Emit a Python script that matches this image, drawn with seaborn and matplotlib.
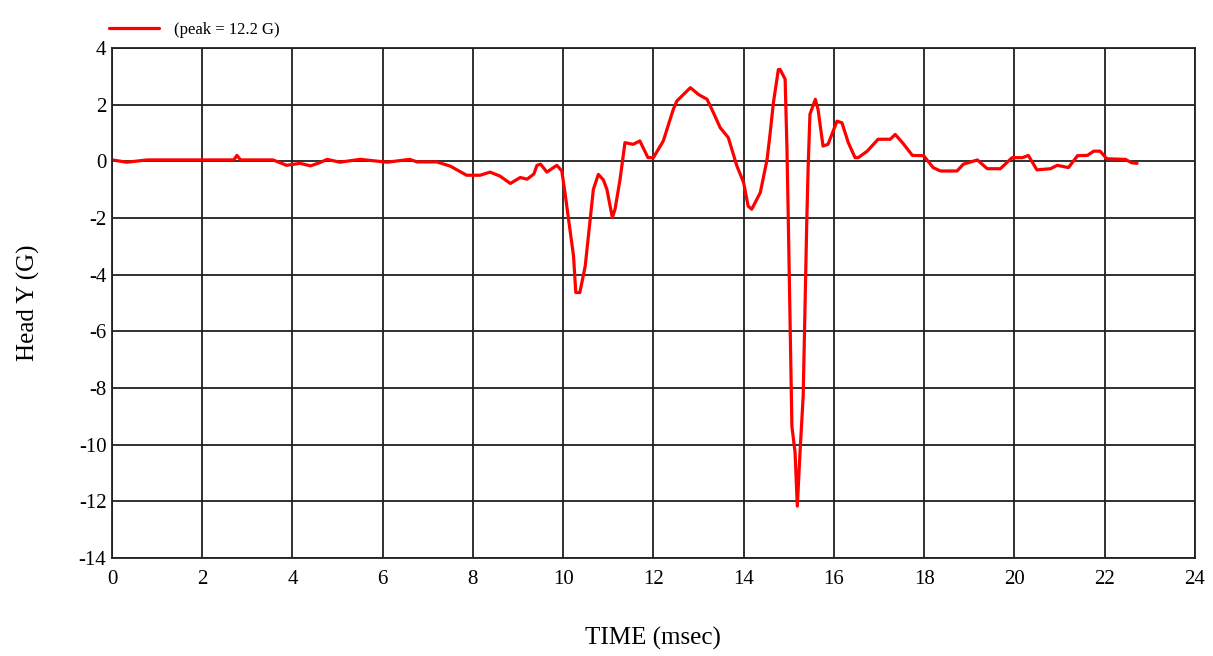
import numpy as np
import pandas as pd
import seaborn as sns
import matplotlib.pyplot as plt

# time (msec) and head Y acceleration (G)
time_ms = [0.0, 0.33, 0.78, 2.7, 2.77, 2.85, 3.57, 3.87, 4.17, 4.4, 4.6, 4.77,
           5.05, 5.5, 6.1, 6.6, 6.76, 7.2, 7.5, 7.86, 8.16, 8.38, 8.6, 8.83,
           9.05, 9.2, 9.35, 9.42, 9.5, 9.64, 9.86, 9.97, 10.04, 10.15, 10.23,
           10.28, 10.37, 10.49, 10.56, 10.67, 10.78, 10.89, 10.97, 11.09,
           11.15, 11.26, 11.37, 11.55, 11.7, 11.88, 12.0, 12.22, 12.44, 12.52,
           12.82, 13.0, 13.19, 13.33, 13.48, 13.66, 13.85, 14.0, 14.1, 14.18,
           14.37, 14.52, 14.59, 14.66, 14.77, 14.81, 14.92, 14.96, 14.99,
           15.03, 15.07, 15.14, 15.19, 15.25, 15.32, 15.36, 15.4, 15.43,
           15.47, 15.59, 15.65, 15.76, 15.87, 16.07, 16.18, 16.32, 16.47,
           16.54, 16.74, 16.98, 17.25, 17.36, 17.52, 17.74, 17.99, 18.2,
           18.36, 18.73, 18.87, 19.18, 19.4, 19.69, 19.95, 20.18, 20.31,
           20.5, 20.8, 20.95, 21.2, 21.4, 21.62, 21.76, 21.9, 22.05, 22.46,
           22.6, 22.72]
head_y = [0.05, -0.03, 0.05, 0.05, 0.21, 0.05, 0.05, -0.14, -0.07, -0.16,
          -0.05, 0.07, -0.03, 0.07, -0.03, 0.07, -0.02, -0.02, -0.17, -0.49,
          -0.49, -0.38, -0.52, -0.78, -0.57, -0.63, -0.45, -0.14, -0.1, -0.38,
          -0.14, -0.34, -1.1, -2.4, -3.34, -4.63, -4.63, -3.69, -2.63, -0.99,
          -0.46, -0.65, -0.99, -1.98, -1.69, -0.65, 0.66, 0.6, 0.72, 0.13,
          0.13, 0.72, 1.83, 2.13, 2.6, 2.36, 2.19, 1.72, 1.19, 0.84, -0.16,
          -0.75, -1.58, -1.69, -1.1, 0.07, 1.02, 2.07, 3.24, 3.24, 2.9, 0.49,
          -2.05, -5.7, -9.35, -10.27, -12.17, -10.27, -8.29, -5.22, -2.1,
          -0.22, 1.66, 2.19, 1.83, 0.54, 0.6, 1.42, 1.36, 0.66, 0.13, 0.13,
          0.36, 0.78, 0.78, 0.95, 0.66, 0.21, 0.2, -0.22, -0.34, -0.34, -0.1,
          0.05, -0.26, -0.26, 0.13, 0.13, 0.21, -0.3, -0.26, -0.14, -0.22,
          0.2, 0.21, 0.36, 0.36, 0.09, 0.07, -0.05, -0.07]
legend_label = "(peak = 12.2 G)"

df = pd.DataFrame({"time": time_ms, "head_y": head_y})

sns.set_style("white")
plt.rcParams["font.family"] = ["Liberation Serif", "DejaVu Serif"]
plt.rcParams["axes.unicode_minus"] = False

fig = plt.figure(figsize=(12.13, 6.56), dpi=100)
ax = fig.add_axes([0.0923, 0.1494, 0.8927, 0.7774])

sns.lineplot(data=df, x="time", y="head_y", sort=False, color="#ff0000",
             linewidth=2.3, label=legend_label, ax=ax)

ax.set_xlim(0, 24)
ax.set_ylim(-14, 4)
ax.set_xticks(np.arange(0, 25, 2))
ax.set_yticks(np.arange(-14, 5, 2))
ax.grid(True, color="#202020", linewidth=1.3)
for s in ax.spines.values():
    s.set_color("#202020")
    s.set_linewidth(1.3)
ax.tick_params(length=0, labelsize=15, pad=4, colors="black")
ax.tick_params(axis="x", pad=9)

ax.set_xlabel("TIME (msec)", fontsize=18, labelpad=27, color="black")
ax.set_ylabel("Head Y (G)", fontsize=18, labelpad=28, color="black")

ax.legend(loc="lower left", bbox_to_anchor=(-0.012, 1.0), frameon=False,
          fontsize=12, handlelength=3, handletextpad=0.9, borderaxespad=0.2,
          labelcolor="black")

fig.savefig("out.png", dpi=100)
